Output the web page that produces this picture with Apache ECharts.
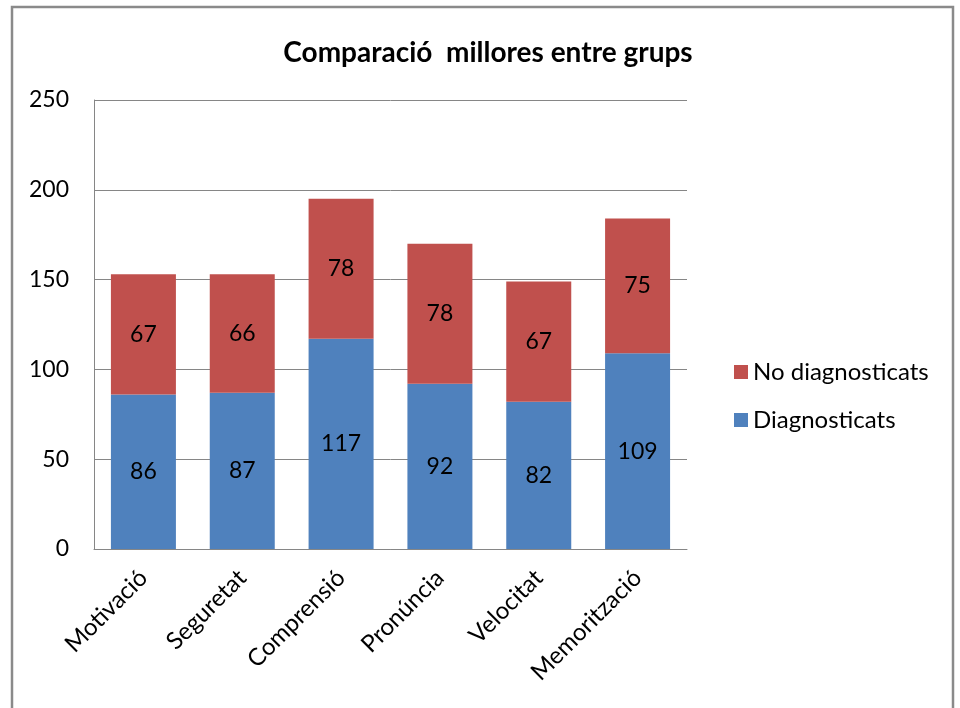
<!DOCTYPE html>
<html>
<head>
<meta charset="utf-8">
<script src="https://cdn.jsdelivr.net/npm/echarts@6/dist/echarts.min.js"></script>
<style>
  html, body { margin: 0; padding: 0; background: #fff; }
  #chart { width: 960px; height: 708px; }
</style>
</head>
<body>
<div id="chart"></div>
<script>
const categories = ['Motivació', 'Seguretat', 'Comprensió', 'Pronúncia', 'Velocitat', 'Memorització'];
const diagnosticats = [86, 87, 117, 92, 82, 109];
const noDiagnosticats = [67, 66, 78, 78, 67, 75];
const yTicks = { min: 0, max: 250, interval: 50 };

const FONT = 'Lato, "Open Sans", sans-serif';
const chart = echarts.init(document.getElementById('chart'));
chart.setOption({
  animation: false,
  backgroundColor: '#ffffff',
  graphic: [{
    type: 'rect',
    shape: { x: 12, y: 7, width: 941, height: 740 },
    style: { fill: 'none', stroke: '#8a8a8a', lineWidth: 2.5 },
    silent: true
  }],
  title: {
    text: 'Comparació  millores entre grups',
    left: 483, top: 34, textAlign: 'center',
    textStyle: { fontFamily: FONT, fontWeight: 'bold', fontSize: 28, color: '#000' }
  },
  legend: {
    orient: 'vertical',
    left: 729, top: 355,
    itemWidth: 14, itemHeight: 14, itemGap: 24,
    icon: 'rect',
    data: ['No diagnosticats', 'Diagnosticats'],
    textStyle: { fontFamily: FONT, fontSize: 24, color: '#000' }
  },
  grid: { left: 94, right: 273, top: 100, bottom: 159 },
  xAxis: {
    type: 'category',
    data: categories,
    axisLine: { lineStyle: { color: '#868686', width: 1 } },
    axisTick: { show: false },
    axisLabel: { rotate: 45, margin: 25, fontFamily: FONT, fontSize: 24, color: '#000', interval: 0 }
  },
  yAxis: {
    type: 'value',
    min: yTicks.min, max: yTicks.max, interval: yTicks.interval,
    axisLine: { show: true, lineStyle: { color: '#868686', width: 1 } },
    axisTick: { show: false },
    splitLine: { lineStyle: { color: '#868686', width: 1 } },
    axisLabel: { margin: 25, fontFamily: FONT, fontSize: 23, color: '#000' }
  },
  series: [
    {
      name: 'Diagnosticats', type: 'bar', stack: 'total',
      data: diagnosticats, barWidth: 65,
      itemStyle: { color: '#4F81BD' },
      label: { show: true, position: 'inside', fontFamily: FONT, fontSize: 23, color: '#000' }
    },
    {
      name: 'No diagnosticats', type: 'bar', stack: 'total',
      data: noDiagnosticats, barWidth: 65,
      itemStyle: { color: '#C0504D' },
      label: { show: true, position: 'inside', fontFamily: FONT, fontSize: 23, color: '#000' }
    }
  ]
});
</script>
</body>
</html>
